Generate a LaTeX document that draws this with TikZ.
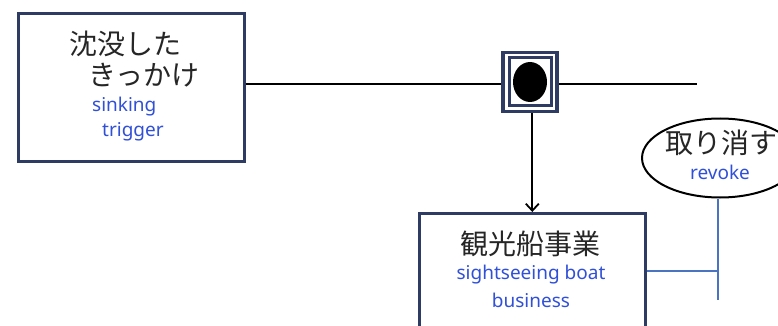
\documentclass[tikz,border=0pt]{standalone}
\usepackage{fontspec}
\setmainfont{Noto Sans}
\newfontfamily\jp{Noto Sans CJK JP}
\usetikzlibrary{shapes.geometric,arrows.meta}
\definecolor{navy}{HTML}{2E3B63}
\definecolor{entxt}{HTML}{3050D8}
\definecolor{steel}{HTML}{4A74C0}
\tikzset{
  x=1pt,y=-1pt,
  box/.style={draw=navy,line width=2.6pt,fill=white,minimum width=226pt,inner sep=0pt},
  jptxt/.style={font=\jp\fontsize{28}{32}\selectfont,text=black!85,inner sep=0pt,anchor=west},
  entext/.style={font=\fontsize{19}{22}\selectfont,text=entxt,inner sep=0pt,anchor=west},
  conn/.style={line width=2pt,black},
  bluel/.style={line width=1.8pt,steel},
}
\begin{document}
\begin{tikzpicture}
\useasboundingbox (0,0) rectangle (778,326);
\clip (0,0) rectangle (778,326);
% left box
\node[box,minimum height=148pt,anchor=north west] (trig) at (17,12) {};
\node[jptxt] (t1) at (69,44) {沈没した};
\node[jptxt] (t2) at (88,75) {きっかけ};
\node[entext] (t3) at (92,107) {sinking};
\node[entext] (t4) at (102,132) {trigger};
% junction
\coordinate (lineend) at (697,84);
\node[draw=navy,line width=3.5pt,minimum width=54pt,minimum height=59pt,inner sep=0pt,fill=white] (jn) at (530,82) {};
\draw[conn] (trig.east|-lineend) -- (jn.west|-lineend);
\draw[conn] (jn.east|-lineend) -- (lineend);
\node[draw=navy,line width=3pt,minimum width=42pt,minimum height=48pt,inner sep=0pt] (jin) at (530,82) {};
\node[ellipse,fill=black,minimum width=34pt,minimum height=40pt,inner sep=0pt] (dot) at (530,82) {};
% bottom box
\node[box,minimum height=150pt,anchor=north west] (boat) at (418,212) {};
\node[jptxt,anchor=center] (b1) at (530,244) {観光船事業};
\node[entext,anchor=center] (b2) at (531,275) {sightseeing boat};
\node[entext,anchor=center] (b3) at (531,300) {business};
\draw[conn,-{Straight Barb[length=7pt,width=13pt,line width=1.8pt]}] (jn.south-|boat.north) -- (boat.north);
% ellipse
\node[ellipse,draw=black,line width=2pt,fill=white,minimum width=156pt,minimum height=79pt,inner sep=0pt] (rev) at (720,158) {};
\node[jptxt] (r1) at (665,143) {取り消す};
\node[entext,anchor=center] (r2) at (720,172) {revoke};
\coordinate (vend) at (718,300);
\coordinate (tee) at (718,271);
\draw[bluel] (rev.south-|vend) -- (vend);
\draw[bluel] (boat.east|-tee) -- (tee);
\end{tikzpicture}
\end{document}
